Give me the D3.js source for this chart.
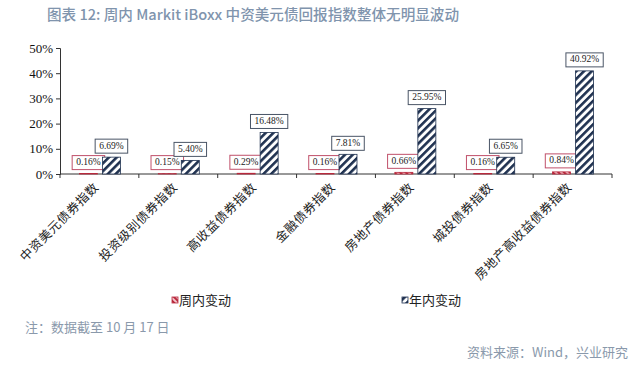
<!DOCTYPE html>
<html><head><meta charset="utf-8">
<script src="https://cdn.jsdelivr.net/npm/d3@7"></script>
<style>body{margin:0;background:#fff}svg{display:block}</style>
</head><body>
<svg id="c" width="640" height="365"></svg>
<script>
const categories = ["中资美元债券指数","投资级别债券指数","高收益债券指数","金融债券指数","房地产债券指数","城投债券指数","房地产高收益债券指数"];
const weekly = [0.16,0.15,0.29,0.16,0.66,0.16,0.84];
const yearly = [6.69,5.40,16.48,7.81,25.95,6.65,40.92];
const seriesNames = ["周内变动","年内变动"];
const yTicks = [0,10,20,30,40,50];

const svg = d3.select("#c");
const defs = svg.append("defs");
const pb = defs.append("pattern").attr("id","hb").attr("patternUnits","userSpaceOnUse")
  .attr("width",5.5).attr("height",5.5).attr("patternTransform","rotate(45)");
pb.append("rect").attr("width",5.5).attr("height",5.5).attr("fill","#fff");
pb.append("rect").attr("width",2.6).attr("height",5.5).attr("fill","#1f3150");
const pr = defs.append("pattern").attr("id","hr").attr("patternUnits","userSpaceOnUse")
  .attr("width",4).attr("height",4).attr("patternTransform","rotate(-45)");
pr.append("rect").attr("width",4).attr("height",4).attr("fill","#f2c6cc");
pr.append("rect").attr("width",2).attr("height",4).attr("fill","#b8283c");

const x = d3.scaleBand().domain(categories).range([60,612]);
const y = d3.scaleLinear().domain([0,50]).range([174,48]);
const sub = d3.scaleBand().domain([0,1]).range([-20,21]).paddingInner(0.217);

// title
svg.append("text").attr("x",47).attr("y",20).attr("font-family","Noto Sans CJK SC")
  .attr("font-size",14.6).attr("font-weight",500).attr("fill","#8094ad")
  .text("图表 12: 周内 Markit iBoxx 中资美元债回报指数整体无明显波动");

// y axis
const ya = svg.append("g").attr("transform","translate(60,0)")
  .call(d3.axisLeft(y).tickValues(yTicks).tickSize(4).tickFormat(d=>d+"%"));
ya.select(".domain").attr("stroke","#333");
ya.selectAll(".tick line").attr("stroke","#333");
ya.selectAll(".tick text").attr("font-family","Liberation Serif").attr("font-size",13).attr("fill","#111").attr("x",-7);

// x axis line + ticks at boundaries
const xa = svg.append("g").attr("transform","translate(0,174)");
xa.append("line").attr("x1",60).attr("x2",612).attr("stroke","#333");
const bounds = categories.map(c=>x(c)).concat([x.range()[1]]);
xa.selectAll(".bt").data(bounds).join("line").attr("x1",d=>d).attr("x2",d=>d).attr("y1",0).attr("y2",4).attr("stroke","#333");

// category labels
svg.append("g").selectAll("text").data(categories).join("text")
  .attr("transform",d=>`translate(${x(d)+x.bandwidth()/2},188) rotate(-45)`)
  .attr("text-anchor","end").attr("font-family","Noto Sans CJK SC").attr("font-size",12.5)
  .attr("letter-spacing",0.6).attr("fill","#222").text(d=>d);

const series = [
  {vals:weekly, fill:"url(#hr)", stroke:"#b8283c", box:"#c0506a"},
  {vals:yearly, fill:"url(#hb)", stroke:"#1f3150", box:"#4a5566"}
];
series.forEach((s,si)=>{
  const g = svg.append("g");
  g.selectAll("rect").data(s.vals).join("rect")
    .attr("x",(d,i)=>x(categories[i])+x.bandwidth()/2+sub(si))
    .attr("width",sub.bandwidth())
    .attr("y",d=>y(d)).attr("height",d=>y(0)-y(d))
    .attr("fill",s.fill).attr("stroke",s.stroke).attr("stroke-width",0.8);
  const lg = svg.append("g");
  s.vals.forEach((v,i)=>{
    const cx = x(categories[i])+x.bandwidth()/2+sub(si)+sub.bandwidth()/2;
    const txt = v.toFixed(2)+"%";
    const t = lg.append("text").attr("x",cx).attr("y",y(v)-8.5).attr("text-anchor","middle")
      .attr("font-family","Liberation Serif").attr("font-size",9.5).attr("fill","#222").text(txt);
    const w = t.node().getComputedTextLength()+8;
    lg.insert("rect","text").attr("x",cx-w/2).attr("y",y(v)-18).attr("width",w).attr("height",14)
      .attr("fill","#fff").attr("stroke",s.box).attr("stroke-width",1);
  });
});

// legend
const legX = [172,402];
seriesNames.forEach((n,i)=>{
  svg.append("rect").attr("x",legX[i]).attr("y",297).attr("width",6).attr("height",6)
    .attr("fill",series[i].fill).attr("stroke",series[i].stroke).attr("stroke-width",0.8);
  svg.append("text").attr("x",legX[i]+7).attr("y",304.5).attr("font-family","Noto Sans CJK SC")
    .attr("font-size",13).attr("fill","#222").text(n);
});

// notes
svg.append("text").attr("x",25).attr("y",332).attr("font-family","Noto Sans CJK SC")
  .attr("font-size",13).attr("fill","#8a99ab").text("注：数据截至 10 月 17 日");
svg.append("text").attr("x",628).attr("y",357).attr("text-anchor","end").attr("font-family","Noto Sans CJK SC")
  .attr("font-size",13).attr("fill","#8a99ab").text("资料来源：Wind，兴业研究");
</script>
</body></html>
